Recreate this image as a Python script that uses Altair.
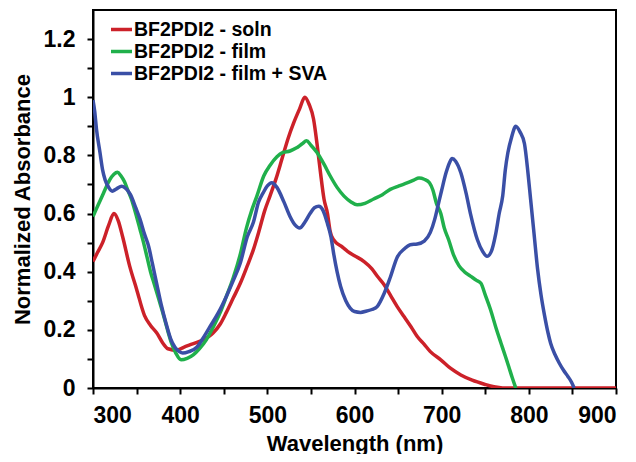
import altair as alt
import pandas as pd

# ---- data ----
series_names = ["BF2PDI2 - soln", "BF2PDI2 - film", "BF2PDI2 - film + SVA"]
series_colors = ["#cc2129", "#20b04b", "#3a4fa6"]

soln_wl = [300, 305, 311, 318, 324, 329, 334, 342, 350, 359, 366, 373, 380, 386, 396,
           404, 411, 420, 426, 432, 438, 446, 453, 461, 469, 477, 484, 490, 497, 503,
           510, 517, 524, 530, 537, 543, 548, 553, 557, 561, 565, 569, 572, 576, 580,
           586, 592, 600, 611, 620, 626, 634, 641, 649, 657, 665, 672, 680, 687, 699,
           710, 722, 735, 749, 760, 770, 800, 850, 900]
soln_abs = [0.435, 0.465, 0.50, 0.56, 0.60, 0.575, 0.52, 0.42, 0.34, 0.25, 0.215, 0.19,
            0.155, 0.135, 0.13, 0.14, 0.148, 0.158, 0.166, 0.175, 0.19, 0.22, 0.26, 0.31,
            0.36, 0.42, 0.476, 0.535, 0.61, 0.66, 0.72, 0.79, 0.86, 0.91, 0.96, 1.0, 0.975,
            0.925, 0.84, 0.74, 0.65, 0.60, 0.54, 0.51, 0.497, 0.485, 0.47, 0.455, 0.435,
            0.41, 0.385, 0.355, 0.32, 0.28, 0.245, 0.21, 0.177, 0.15, 0.125, 0.097, 0.068,
            0.045, 0.027, 0.013, 0.004, 0.0, 0.0, 0.0, 0.0]

film_wl = [300, 306, 312, 319, 324, 328, 332, 336, 340, 344, 349, 354, 358, 362, 366, 370,
           375, 380, 385, 390, 395, 401, 408, 415, 422, 430, 438, 446, 453, 461, 469, 476,
           482, 488, 496, 503, 511, 518, 526, 533, 540, 545, 550, 557, 565, 572, 580, 588,
           596, 603, 612, 622, 632, 641, 651, 661, 668, 674, 680, 686, 690, 694, 699, 703,
           708, 714, 720, 726, 733, 740, 745, 750, 756, 762, 768, 773, 777, 781, 785]
film_abs = [0.59, 0.63, 0.67, 0.715, 0.735, 0.742, 0.73, 0.71, 0.68, 0.65, 0.60, 0.545,
            0.50, 0.45, 0.40, 0.36, 0.31, 0.26, 0.205, 0.155, 0.12, 0.097, 0.102, 0.114,
            0.135, 0.166, 0.21, 0.26, 0.315, 0.38, 0.46, 0.55, 0.61, 0.66, 0.73, 0.765,
            0.795, 0.81, 0.815, 0.825, 0.84, 0.85, 0.835, 0.81, 0.77, 0.73, 0.69, 0.66,
            0.64, 0.63, 0.635, 0.65, 0.665, 0.683, 0.695, 0.706, 0.715, 0.722, 0.718,
            0.706, 0.68, 0.635, 0.60, 0.55, 0.51, 0.455, 0.42, 0.40, 0.385, 0.37, 0.36,
            0.32, 0.27, 0.21, 0.155, 0.11, 0.073, 0.035, 0.0]

sva_wl = [300, 302, 304, 308, 311, 314, 318, 322, 327, 333, 338, 343, 349, 354, 359, 364,
          368, 373, 378, 384, 389, 394, 399, 403, 410, 419, 426, 434, 444, 453, 461, 469,
          477, 484, 490, 495, 500, 505, 511, 519, 526, 532, 537, 543, 549, 554, 559, 564,
          569, 573, 576, 580, 584, 590, 595, 600, 607, 614, 620, 626, 634, 641, 649, 657,
          664, 672, 680, 687, 692, 696, 700, 705, 709, 712, 716, 722, 728, 733, 741, 747,
          752, 757, 762, 766, 770, 773, 776, 780, 785, 790, 795, 799, 802, 806, 810, 814,
          818, 822, 825, 830, 835, 840, 845, 849, 852]
sva_abs = [0.99, 0.95, 0.89, 0.81, 0.75, 0.715, 0.69, 0.677, 0.685, 0.694, 0.685, 0.665,
           0.62, 0.58, 0.53, 0.485, 0.43, 0.36, 0.29, 0.22, 0.17, 0.14, 0.125, 0.12, 0.125,
           0.14, 0.17, 0.21, 0.26, 0.315, 0.37, 0.43, 0.52, 0.57, 0.64, 0.67, 0.695, 0.706,
           0.69, 0.64, 0.59, 0.56, 0.55, 0.57, 0.60, 0.62, 0.625, 0.61, 0.565, 0.52, 0.464,
           0.40, 0.35, 0.30, 0.275, 0.263, 0.26, 0.265, 0.27, 0.28, 0.325, 0.38, 0.45,
           0.478, 0.493, 0.495, 0.505, 0.535, 0.58, 0.63, 0.68, 0.74, 0.775, 0.789, 0.78,
           0.74, 0.67, 0.60, 0.51, 0.47, 0.453, 0.47, 0.53, 0.60, 0.66, 0.75, 0.81, 0.86,
           0.90, 0.88, 0.84, 0.74, 0.65, 0.53, 0.41, 0.32, 0.25, 0.19, 0.154, 0.115, 0.085,
           0.06, 0.039, 0.02, 0.0]

x_ticks = [300, 350, 400, 450, 500, 550, 600, 650, 700, 750, 800, 850, 900]
y_ticks = [0, 0.1, 0.2, 0.3, 0.4, 0.5, 0.6, 0.7, 0.8, 0.9, 1.0, 1.1, 1.2]

frames = []
for name, wl, ab in zip(series_names, [soln_wl, film_wl, sva_wl], [soln_abs, film_abs, sva_abs]):
    frames.append(pd.DataFrame({"wl": wl, "abs": ab, "series": name}))
df = pd.concat(frames, ignore_index=True)

FONT = "Liberation Sans"

chart = alt.Chart(df).mark_line(strokeWidth=3.5, interpolate="monotone", clip=True).encode(
    x=alt.X("wl:Q",
            scale=alt.Scale(domain=[300, 900], nice=False, zero=False),
            axis=alt.Axis(values=x_ticks, title="Wavelength (nm)",
                          labelExpr="datum.value % 100 === 0 ? datum.value : ''",
                          grid=False, tickSize=6, tickWidth=2, domainWidth=2,
                          tickColor="black", domainColor="black",
                          labelFont=FONT, labelFontWeight="bold", labelFontSize=23,
                          labelColor="black", labelPadding=10,
                          titleFont=FONT, titleFontWeight="bold", titleFontSize=22,
                          titleColor="black", titlePadding=6)),
    y=alt.Y("abs:Q",
            scale=alt.Scale(domain=[0, 1.3], nice=False),
            axis=alt.Axis(values=y_ticks, title="Normalized Absorbance",
                          labelExpr="round(datum.value*10) % 2 === 0 ? format(datum.value, '~g') : ''",
                          grid=False, tickSize=6, tickWidth=2, domainWidth=2,
                          tickColor="black", domainColor="black",
                          labelFont=FONT, labelFontWeight="bold", labelFontSize=23,
                          labelColor="black", labelPadding=12,
                          titleFont=FONT, titleFontWeight="bold", titleFontSize=22,
                          titleColor="black", titlePadding=9)),
    color=alt.Color("series:N", title=None,
                    scale=alt.Scale(domain=series_names, range=series_colors),
                    legend=alt.Legend(orient="none", legendX=16, legendY=7,
                                      symbolType="stroke", symbolStrokeWidth=3.5,
                                      symbolSize=441, labelFont=FONT,
                                      labelFontWeight="bold", labelFontSize=19.5,
                                      labelColor="black", labelOffset=0,
                                      labelLimit=400, rowPadding=-1, padding=0)),
    order=alt.Order("wl:Q"),
).properties(
    width=523, height=378,
    autosize=alt.AutoSizeParams(type="none"),
    padding={"left": 85, "top": 2, "right": 12, "bottom": 66},
).configure_view(stroke="black", strokeWidth=2)

chart.save("out.html", embed_options={"renderer": "svg", "actions": False})
